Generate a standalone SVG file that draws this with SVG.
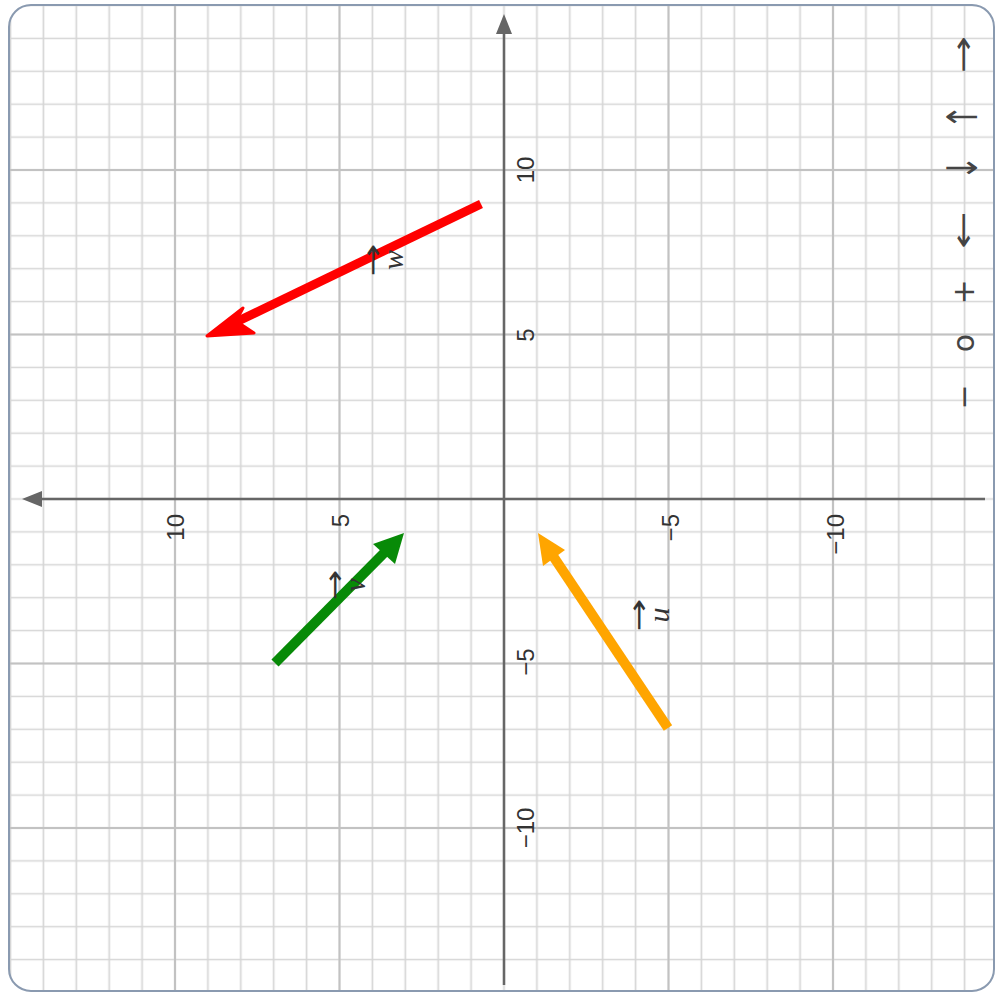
<svg xmlns="http://www.w3.org/2000/svg" width="997" height="998" viewBox="0 0 997 998">
<style>
.tick{font-family:"Liberation Sans",Arial,sans-serif;font-size:24px;fill:#333}
.sym{font-family:"DejaVu Sans","Liberation Sans",sans-serif;font-size:30px;fill:#444}
.vl{font-family:"Liberation Serif","Times New Roman",serif;font-style:italic;font-size:30px;fill:#333}
.va{font-family:"DejaVu Sans",sans-serif;font-size:28px;fill:#333}
.major{stroke:#c2c2c2;stroke-width:2}
.axis{stroke:#666;stroke-width:2.5}
</style>
<defs>
<pattern id="minor" patternUnits="userSpaceOnUse" x="487.55" y="482.55" width="32.9" height="32.9">
<path d="M16.45 0V32.9M0 16.45H32.9" stroke="#d6d6d6" stroke-width="1.7" fill="none"/>
</pattern>
<clipPath id="frame"><rect x="9" y="5" width="985" height="986" rx="22"/></clipPath>
</defs>
<rect x="0" y="0" width="997" height="998" fill="#fff"/>
<g id="grid" clip-path="url(#frame)">
<rect x="0" y="0" width="997" height="998" fill="url(#minor)"/>
<path class="major" d="M175 0V998M339.5 0V998M668.5 0V998M833 0V998M0 170H997M0 334.5H997M0 663.5H997M0 828H997"/>
</g>
<g id="axes">
<line class="axis" x1="504" y1="30" x2="504" y2="985"/>
<polygon points="504,14 496,34 512,34" fill="#666"/>
<line class="axis" x1="38" y1="499" x2="985" y2="499"/>
<polygon points="22,499 42,491 42,507" fill="#666"/>
</g>
<g id="xlabels" class="tick" text-anchor="end" dominant-baseline="central">
<text transform="translate(175 514) rotate(-90)">10</text>
<text transform="translate(340 514) rotate(-90)">5</text>
<text transform="translate(670 514) rotate(-90)">−5</text>
<text transform="translate(835 514) rotate(-90)">−10</text>
</g>
<g id="ylabels" class="tick" text-anchor="middle" dominant-baseline="central">
<text transform="translate(525 170) rotate(-90)">10</text>
<text transform="translate(525 335) rotate(-90)">5</text>
<text transform="translate(525 662) rotate(-90)">−5</text>
<text transform="translate(525 828) rotate(-90)">−10</text>
</g>
<g id="toolbar" class="sym" text-anchor="middle" dominant-baseline="central">
<text transform="translate(963 55) rotate(-90) scale(1.5 1)">→</text>
<text transform="translate(963 117) rotate(-90) scale(1 1.4)">↑</text>
<text transform="translate(963 168) rotate(-90) scale(1 1.4)">↓</text>
<text transform="translate(963 230) rotate(-90) scale(1.5 1)">←</text>
<text transform="translate(963 292) rotate(-90)">+</text>
<text transform="translate(963 343) rotate(-90)">o</text>
<text transform="translate(963 397) rotate(-90)">−</text>
</g>
<g id="connectors">
<g id="vec-w">
<line x1="481" y1="204" x2="232" y2="324" stroke="#ff0000" stroke-width="9" stroke-linecap="butt"/>
<polygon points="207,336 243,308 236,321 254,333" fill="#ff0000" stroke="#ff0000" stroke-width="3" stroke-linejoin="round"/>
</g>
<g id="vec-v">
<line x1="275" y1="663" x2="386" y2="551" stroke="#078a07" stroke-width="10"/>
<polygon points="404,533 395,564 373,544" fill="#078a07"/>
</g>
<g id="vec-u">
<line x1="668" y1="728" x2="553" y2="556" stroke="#ffa500" stroke-width="10"/>
<polygon points="538,533 565,550 543,566" fill="#ffa500"/>
</g>
</g>
<g id="label-w" text-anchor="middle" dominant-baseline="central" transform="translate(394 260) rotate(-90)">
<text class="va" x="0" y="-22" transform="scale(1.4 1)">→</text>
<text class="vl" x="0" y="-2">w</text>
</g>
<g id="label-v" text-anchor="middle" dominant-baseline="central" transform="translate(356 585) rotate(-90)">
<text class="va" x="0" y="-21" transform="scale(1.3 1)">→</text>
<text class="vl" x="0" y="-2">v</text>
</g>
<g id="label-u" text-anchor="middle" dominant-baseline="central" transform="translate(660 615) rotate(-90)">
<text class="va" x="0" y="-22" transform="scale(1.4 1)">→</text>
<text class="vl" x="0" y="-2">u</text>
</g>
<rect id="frame-border" x="9" y="5" width="985" height="986" rx="22" fill="none" stroke="#8a9ab0" stroke-width="2"/>
</svg>
